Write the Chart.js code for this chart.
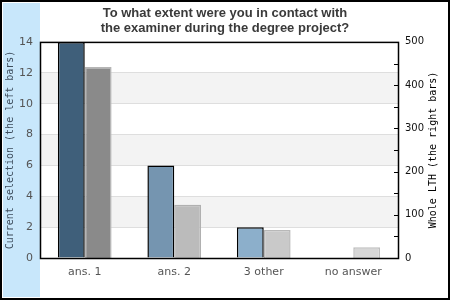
<!DOCTYPE html>
<html lang="en">
<head>
    <meta charset="UTF-8">
    <title>Contact with examiner</title>
    <script src="https://cdn.jsdelivr.net/npm/chart.js"></script>
    <style>
        body { margin: 0; background: #fff; }
    </style>
</head>
<body>
    <canvas id="myChart" width="450" height="300"></canvas>
    <script>
        // values
        const categories = ["ans. 1", "ans. 2", "3 other", "no answer"];
        const currentSelection = [14, 6, 2, 0];      // left axis
        const wholeLTH = [442, 123, 65, 25];         // right axis

        const leftColors = ["#3f5f7a", "#7595b0", "#8cafcb", "#a8c6de"];
        const rightColors = ["#8a8a8a", "#bbbbbb", "#c9c9c9", "#d7d7d7"];
        const rightBorders = ["#b5b5b5", "#b0b0b0", "#b8b8b8", "#bdbdbd"];

        const frame = {
            id: "frame",
            beforeDraw(chart) {
                const c = chart.ctx;
                const a = chart.chartArea;
                const y = chart.scales.y;
                c.save();
                c.fillStyle = "#fff";
                c.fillRect(0, 0, chart.width, chart.height);
                c.fillStyle = "#c8e7fb";
                c.fillRect(3, 3, a.left - 3, chart.height - 6);
                // alternating bands
                c.fillStyle = "#f3f3f3";
                [[2, 4], [6, 8], [10, 12]].forEach(([lo, hi]) => {
                    const top = y.getPixelForValue(hi);
                    c.fillRect(a.left, top, a.right - a.left, y.getPixelForValue(lo) - top);
                });
                c.restore();
            },
            afterDraw(chart) {
                const c = chart.ctx;
                const a = chart.chartArea;
                const y2 = chart.scales.y2;
                c.save();
                c.strokeStyle = "#000";
                c.lineWidth = 1.5;
                c.strokeRect(a.left + 0.5, a.top + 0.5, a.right - a.left, a.bottom - a.top);
                // small inner ticks on the right axis
                c.lineWidth = 1;
                for (let v = 50; v < 500; v += 50) {
                    const py = Math.round(y2.getPixelForValue(v)) + 0.5;
                    c.beginPath();
                    c.moveTo(a.right - 4, py);
                    c.lineTo(a.right + 0.5, py);
                    c.stroke();
                }
                // right axis title, reading bottom to top
                c.translate(433, (a.top + a.bottom) / 2);
                c.rotate(-Math.PI / 2);
                c.font = "10px 'DejaVu Sans Mono'";
                c.fillStyle = "#000";
                c.textAlign = "center";
                c.textBaseline = "middle";
                c.fillText("Whole LTH (the right bars)", 0, 0);
                // outer frame
                c.setTransform(1, 0, 0, 1, 0, 0);
                c.lineWidth = 2;
                c.strokeRect(1, 1, chart.width - 2, chart.height - 2);
                c.restore();
            }
        };

        Chart.defaults.font.family = "'DejaVu Sans'";

        new Chart(document.getElementById("myChart"), {
            type: "bar",
            data: {
                labels: categories,
                datasets: [{
                    label: "Current selection",
                    data: currentSelection,
                    yAxisID: "y",
                    backgroundColor: leftColors,
                    borderColor: "#000",
                    borderWidth: 1.5
                }, {
                    label: "Whole LTH",
                    data: wholeLTH,
                    yAxisID: "y2",
                    backgroundColor: rightColors,
                    borderColor: rightBorders,
                    borderWidth: 1.5
                }]
            },
            options: {
                responsive: false,
                animation: false,
                devicePixelRatio: 1,
                layout: { padding: 0 },
                categoryPercentage: 0.6,
                barPercentage: 1,
                plugins: {
                    legend: { display: false },
                    tooltip: { enabled: false },
                    title: {
                        display: true,
                        text: ["To what extent were you in contact with", "the examiner during the degree project?"],
                        color: "#3a3a3a",
                        font: { family: "'Liberation Sans'", size: 13, weight: "bold", lineHeight: 1.15 },
                        padding: { top: 6, bottom: 6 }
                    }
                },
                scales: {
                    x: {
                        grid: { display: false, drawTicks: false },
                        border: { display: false },
                        ticks: { color: "#555", font: { size: 11 }, padding: 8 },
                        afterFit(s) { s.height = 42; }
                    },
                    y: {
                        position: "left",
                        min: 0,
                        max: 14,
                        ticks: { stepSize: 2, color: "#555", font: { size: 11 }, padding: 7 },
                        grid: {
                            drawTicks: false,
                            color: (ctx) => (ctx.tick && (ctx.tick.value === 0 || ctx.tick.value === 14)) ? "rgba(0,0,0,0)" : "#dedede"
                        },
                        border: { display: false },
                        title: {
                            display: true,
                            text: "Current selection (the left bars)",
                            color: "#3d4d5d",
                            font: { family: "'DejaVu Sans Mono'", size: 10, lineHeight: 1.2 },
                            padding: { top: 4, bottom: 0 }
                        },
                        afterFit(s) { s.width = 40; }
                    },
                    y2: {
                        position: "right",
                        min: 0,
                        max: 500,
                        ticks: { stepSize: 100, color: "#111", font: { size: 10 }, padding: 7 },
                        grid: { display: false, drawTicks: false },
                        border: { display: false },
                        afterFit(s) { s.width = 52; }
                    }
                }
            },
            plugins: [frame]
        });
    </script>
</body>
</html>
